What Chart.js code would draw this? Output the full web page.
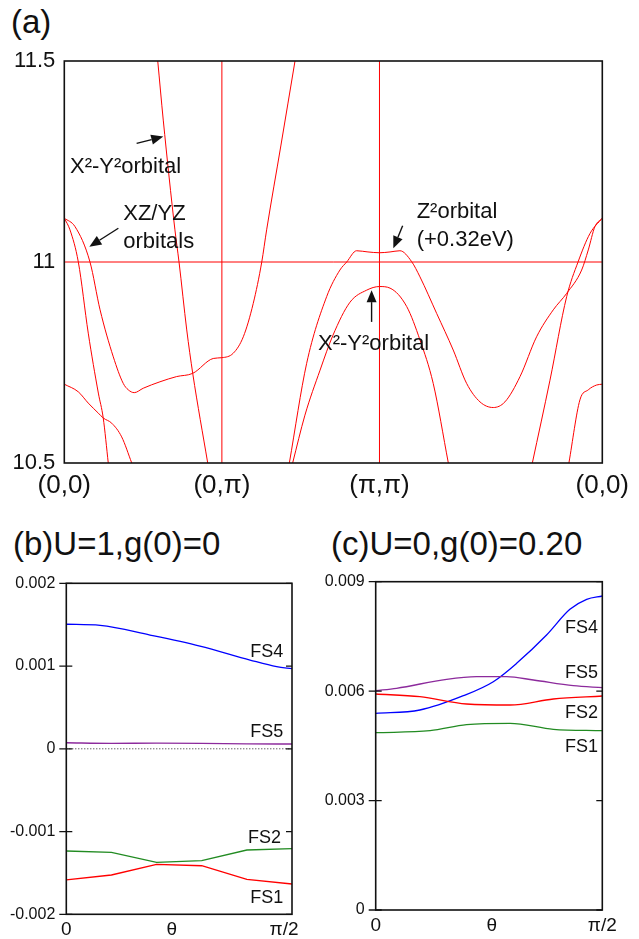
<!DOCTYPE html>
<html><head><meta charset="utf-8">
<script src="https://cdn.jsdelivr.net/npm/chart.js@4/dist/chart.umd.min.js"></script>
<style>
body{margin:0;background:#fff;}
#wrap{position:relative;width:639px;height:939px;background:#fff;overflow:hidden;}
canvas{position:absolute;}
.t{position:absolute;color:#111;font-family:"Liberation Sans",Arial,sans-serif;white-space:nowrap;line-height:1;}
</style></head><body>
<div id="wrap">
<div class="t" style="left:11px;top:5px;font-size:33px">(a)</div>
<div class="t" style="left:13px;top:527px;font-size:33px">(b)U=1,g(0)=0</div>
<div class="t" style="left:331px;top:527px;font-size:33px">(c)U=0,g(0)=0.20</div>
<canvas id="ca" width="639" height="520" style="left:0;top:0"></canvas>
<canvas id="cb" width="320" height="379" style="left:0;top:560px"></canvas>
<canvas id="cc" width="319" height="379" style="left:320px;top:560px"></canvas>
</div>
<script>
// ---------- (a) band structure: x = path length / pi along (0,0)-(0,pi)-(pi,pi)-(0,0)
const kTicks = [0, 1, 2, 3.414];
const kLabels = ['(0,0)', '(0,π)', '(π,π)', '(0,0)'];
const eTicks = [10.5, 11, 11.5];
const eLabels = ['10.5', '11', '11.5'];
const eFermi = 11.0;
const kSymm = [1, 2];

const bandA_k = [0.593, 0.628, 0.702, 0.728, 0.777, 0.815, 0.910];
const bandA_E = [11.5, 11.353, 11.080, 11.0, 10.831, 10.723, 10.5];

const bandB_k = [0, 0.068, 0.163, 0.227, 0.311, 0.374, 0.406, 0.444, 0.501, 0.607, 0.713, 0.815, 0.945, 1.0, 1.072, 1.136, 1.199, 1.253, 1.284, 1.375, 1.464];
const bandB_E = [11.109, 11.088, 11.0, 10.881, 10.764, 10.698, 10.682, 10.675, 10.686, 10.702, 10.715, 10.723, 10.760, 10.762, 10.773, 10.814, 10.897, 11.0, 11.080, 11.291, 11.5];

const bandC_k = [0, 0.036, 0.089, 0.152, 0.216, 0.247, 0.279];
const bandC_E = [11.109, 11.080, 11.0, 10.823, 10.674, 10.612, 10.5];

const bandD_k = [0, 0.089, 0.152, 0.216, 0.247, 0.301, 0.364, 0.428];
const bandD_E = [10.696, 10.677, 10.649, 10.624, 10.612, 10.599, 10.565, 10.5];

const bandZ_k = [1.428, 1.538, 1.665, 1.749, 1.792, 1.855, 1.927, 2.0, 2.067, 2.130, 2.204, 2.257, 2.363, 2.468, 2.553, 2.638, 2.722, 2.796, 2.892, 2.997, 3.103, 3.188, 3.283, 3.325, 3.367, 3.414];
const bandZ_E = [10.5, 10.748, 10.914, 10.980, 11.0, 11.028, 11.025, 11.023, 11.025, 11.028, 11.001, 10.963, 10.872, 10.781, 10.698, 10.652, 10.638, 10.652, 10.715, 10.814, 10.881, 10.922, 10.980, 11.030, 11.088, 11.109];

const bandX_k = [1.449, 1.527, 1.623, 1.705, 1.813, 1.919, 2.0, 2.067, 2.173, 2.257, 2.341, 2.437];
const bandX_E = [10.5, 10.619, 10.731, 10.818, 10.900, 10.930, 10.939, 10.935, 10.889, 10.806, 10.698, 10.5];

const bandF_k = [2.970, 3.082, 3.188, 3.260, 3.336, 3.414];
const bandF_E = [10.5, 10.706, 10.914, 11.0, 11.071, 11.109];

const bandG_k = [3.202, 3.272, 3.325, 3.378, 3.414];
const bandG_E = [10.5, 10.657, 10.682, 10.694, 10.696];

// ---------- (b) U=1, g(0)=0 ; x = theta / (pi/2)
const thTicksB = [0, 0.467, 0.965];
const thTicksC = [0, 0.512, 1];
const thLabels = ['0', 'θ', 'π/2'];

const bYTicks = [-0.002, -0.001, 0, 0.001, 0.002];
const bYLabels = ['-0.002', '-0.001', '0', '0.001', '0.002'];
const bFS1_x = [0, 0.2, 0.4, 0.6, 0.8, 1.0];
const bFS1_y = [-0.001585, -0.001525, -0.001396, -0.001413, -0.001577, -0.001634];
const bFS2_x = [0, 0.2, 0.4, 0.6, 0.8, 1.0];
const bFS2_y = [-0.001235, -0.001251, -0.001372, -0.001352, -0.001223, -0.001207];
const bFS4_x = [0, 0.150, 0.371, 0.592, 0.814, 0.932, 1.0];
const bFS4_y = [0.001505, 0.001492, 0.001375, 0.001242, 0.001073, 0.000992, 0.000968];
const bFS5_x = [0, 0.2, 0.4, 0.6, 0.8, 1.0];
const bFS5_y = [0.000074, 0.000066, 0.000068, 0.000066, 0.00006, 0.000058];

// ---------- (c) U=0, g(0)=0.20
const cYTicks = [0, 0.003, 0.006, 0.009];
const cYLabels = ['0', '0.003', '0.006', '0.009'];
const cFS1_x = [0, 0.24, 0.401, 0.593, 0.784, 1.0];
const cFS1_y = [0.00486, 0.004915, 0.00508, 0.005118, 0.004954, 0.004915];
const cFS2_x = [0, 0.195, 0.401, 0.593, 0.784, 1.0];
const cFS2_y = [0.005921, 0.005847, 0.005647, 0.00562, 0.005784, 0.005867];
const cFS4_x = [0, 0.195, 0.387, 0.519, 0.622, 0.754, 0.857, 0.931, 1.0];
const cFS4_y = [0.005392, 0.005483, 0.005875, 0.006259, 0.006763, 0.007539, 0.008243, 0.008518, 0.008608];
const cFS5_x = [0, 0.092, 0.313, 0.445, 0.578, 0.696, 0.872, 1.0];
const cFS5_y = [0.006012, 0.006078, 0.006324, 0.006396, 0.006396, 0.006305, 0.006149, 0.006094];

// ---------- styling / helpers
const FONT = '"Liberation Sans", Arial, sans-serif';
Chart.defaults.font.family = FONT;
Chart.defaults.color = '#111';
const RED = '#ff0000', BLUE = '#0000ff', GREEN = '#228b22', PURPLE = '#8c2a9c';

function pts(xs, ys) { return xs.map((x, i) => ({ x: x, y: ys[i] })); }
function curve(xs, ys, color, w, smooth) {
  return { data: pts(xs, ys), borderColor: color, borderWidth: w, pointRadius: 0, fill: false,
    cubicInterpolationMode: smooth ? 'monotone' : 'default', tension: 0 };
}

function drawArrow(ctx, x0, y0, x1, y1) {
  const ang = Math.atan2(y1 - y0, x1 - x0), L = 12, W = 5;
  const bx = x1 - L * Math.cos(ang), by = y1 - L * Math.sin(ang);
  ctx.beginPath(); ctx.moveTo(x0, y0); ctx.lineTo(bx, by); ctx.lineWidth = 1.4; ctx.stroke();
  ctx.beginPath(); ctx.moveTo(x1, y1);
  ctx.lineTo(bx + W * Math.sin(ang), by - W * Math.cos(ang));
  ctx.lineTo(bx - W * Math.sin(ang), by + W * Math.cos(ang));
  ctx.closePath(); ctx.fill();
}

const framePlugin = {
  id: 'frame',
  afterDatasetsDraw(chart, args, o) {
    const { ctx, chartArea: a } = chart;
    ctx.save();
    ctx.strokeStyle = '#111'; ctx.lineWidth = o.width || 1.5;
    ctx.strokeRect(a.left, a.top, a.right - a.left, a.bottom - a.top);
    if (o.ticks) {
      const ys = chart.scales.y;
      ctx.lineWidth = 1.3;
      ys.ticks.forEach(t => {
        const py = ys.getPixelForValue(t.value);
        ctx.beginPath();
        ctx.moveTo(a.left - 7, py); ctx.lineTo(a.left + 6, py);
        ctx.moveTo(a.right - 6, py); ctx.lineTo(a.right, py);
        ctx.stroke();
      });
    }
    ctx.restore();
  }
};

const notesPlugin = {
  id: 'notes',
  afterDatasetsDraw(chart, args, o) {
    const { ctx, scales: { x, y } } = chart;
    ctx.save();
    ctx.fillStyle = '#111'; ctx.strokeStyle = '#111';
    ctx.font = o.font; ctx.textBaseline = 'alphabetic'; ctx.textAlign = o.align || 'left';
    (o.texts || []).forEach(t => ctx.fillText(t.text, x.getPixelForValue(t.x), y.getPixelForValue(t.y)));
    (o.arrows || []).forEach(a => drawArrow(ctx, x.getPixelForValue(a.x0), y.getPixelForValue(a.y0),
      x.getPixelForValue(a.x1), y.getPixelForValue(a.y1)));
    ctx.restore();
  }
};

function fixedTicks(vals) { return s => { s.ticks = vals.map(v => ({ value: v })); }; }

// ---------- chart (a)
new Chart(document.getElementById('ca'), {
  type: 'line',
  data: { datasets: [
    curve([0, 3.414], [eFermi, eFermi], RED, 1, false),
    curve([kSymm[0], kSymm[0]], [10.5, 11.5], RED, 1, false),
    curve([kSymm[1], kSymm[1]], [10.5, 11.5], RED, 1, false),
    curve(bandA_k, bandA_E, RED, 1, true),
    curve(bandB_k, bandB_E, RED, 1, true),
    curve(bandC_k, bandC_E, RED, 1, true),
    curve(bandD_k, bandD_E, RED, 1, true),
    curve(bandZ_k, bandZ_E, RED, 1, true),
    curve(bandX_k, bandX_E, RED, 1, true),
    curve(bandF_k, bandF_E, RED, 1, true),
    curve(bandG_k, bandG_E, RED, 1, true)
  ] },
  options: {
    responsive: false, animation: false, devicePixelRatio: 1,
    layout: { padding: { top: 61, right: 36.7, left: 0, bottom: 0 } },
    plugins: {
      legend: { display: false }, tooltip: { enabled: false },
      frame: { width: 1.6 },
      notes: {
        font: '22px ' + FONT,
        texts: [
          { text: 'X²-Y²orbital', x: 0.036, y: 11.221 },
          { text: 'XZ/YZ', x: 0.374, y: 11.104 },
          { text: 'orbitals', x: 0.374, y: 11.036 },
          { text: 'Z²orbital', x: 2.236, y: 11.109 },
          { text: '(+0.32eV)', x: 2.236, y: 11.040 },
          { text: 'X²-Y²orbital', x: 1.610, y: 10.781 }
        ],
        arrows: [
          { x0: 0.459, y0: 11.295, x1: 0.628, y1: 11.312 },
          { x0: 0.343, y0: 11.084, x1: 0.159, y1: 11.038 },
          { x0: 2.147, y0: 11.090, x1: 2.088, y1: 11.034 },
          { x0: 1.950, y0: 10.851, x1: 1.950, y1: 10.930 }
        ]
      }
    },
    scales: {
      x: { type: 'linear', min: 0, max: 3.414,
        afterBuildTicks: fixedTicks(kTicks),
        afterFit: s => { s.height = 57; },
        ticks: { callback: (v, i) => kLabels[i], font: { size: 26 }, color: '#111', maxRotation: 0, autoSkip: false, padding: 7 },
        grid: { display: false, drawTicks: false }, border: { display: false } },
      y: { type: 'linear', min: 10.5, max: 11.5,
        afterBuildTicks: fixedTicks(eTicks),
        afterFit: s => { s.width = 64.3; },
        ticks: { callback: (v, i) => eLabels[i], font: { size: 22 }, color: '#111', padding: 9 },
        grid: { display: false, drawTicks: false }, border: { display: false } }
    }
  },
  plugins: [framePlugin, notesPlugin]
});

// ---------- bottom charts
function smallChart(id, cfg) {
  return new Chart(document.getElementById(id), {
    type: 'line',
    data: { datasets: cfg.datasets },
    options: {
      responsive: false, animation: false, devicePixelRatio: 1,
      layout: { padding: cfg.padding },
      plugins: {
        legend: { display: false }, tooltip: { enabled: false },
        frame: { width: 1.6, ticks: true },
        notes: { font: '18px ' + FONT, align: 'right', texts: cfg.texts }
      },
      scales: {
        x: { type: 'linear', min: 0, max: 1,
          afterBuildTicks: fixedTicks(cfg.xTicks),
          afterFit: s => { s.height = cfg.xH; },
          ticks: { callback: (v, i) => thLabels[i], font: { size: 19 }, color: '#111', maxRotation: 0, autoSkip: false, padding: 4 },
          grid: { display: false, drawTicks: false }, border: { display: false } },
        y: { type: 'linear', min: cfg.yMin, max: cfg.yMax,
          afterBuildTicks: fixedTicks(cfg.yTicks),
          afterFit: s => { s.width = cfg.yW; },
          ticks: { callback: (v, i) => cfg.yLabels[i], font: { size: 16 }, color: '#111', padding: 11 },
          grid: { display: false, drawTicks: false }, border: { display: false } }
      }
    },
    plugins: [framePlugin, notesPlugin]
  });
}

const zeroLine = curve([0, 1], [0, 0], '#222', 1, false);
zeroLine.borderDash = [1, 2];

smallChart('cb', {
  padding: { top: 23.3, right: 28, left: 0, bottom: 0 },
  xH: 24.7, yW: 66.3, yMin: -0.002, yMax: 0.002,
  xTicks: thTicksB, yTicks: bYTicks, yLabels: bYLabels,
  datasets: [
    zeroLine,
    curve(bFS5_x, bFS5_y, PURPLE, 1.4, true),
    curve(bFS4_x, bFS4_y, BLUE, 1.3, true),
    curve(bFS2_x, bFS2_y, GREEN, 1.3, false),
    curve(bFS1_x, bFS1_y, RED, 1.3, false)
  ],
  texts: [
    { text: 'FS4', x: 0.961, y: 0.001113 },
    { text: 'FS5', x: 0.961, y: 0.000143 },
    { text: 'FS2', x: 0.951, y: -0.001135 },
    { text: 'FS1', x: 0.961, y: -0.00186 }
  ]
});

smallChart('cc', {
  padding: { top: 21.7, right: 36.7, left: 0, bottom: 0 },
  xH: 29, yW: 55.7, yMin: 0, yMax: 0.009,
  xTicks: thTicksC, yTicks: cYTicks, yLabels: cYLabels,
  datasets: [
    curve(cFS1_x, cFS1_y, GREEN, 1.3, true),
    curve(cFS2_x, cFS2_y, RED, 1.3, true),
    curve(cFS5_x, cFS5_y, PURPLE, 1.3, true),
    curve(cFS4_x, cFS4_y, BLUE, 1.3, true)
  ],
  texts: [
    { text: 'FS4', x: 0.981, y: 0.00759 },
    { text: 'FS5', x: 0.981, y: 0.00635 },
    { text: 'FS2', x: 0.981, y: 0.005255 },
    { text: 'FS1', x: 0.981, y: 0.00434 }
  ]
});
</script>
</body></html>
